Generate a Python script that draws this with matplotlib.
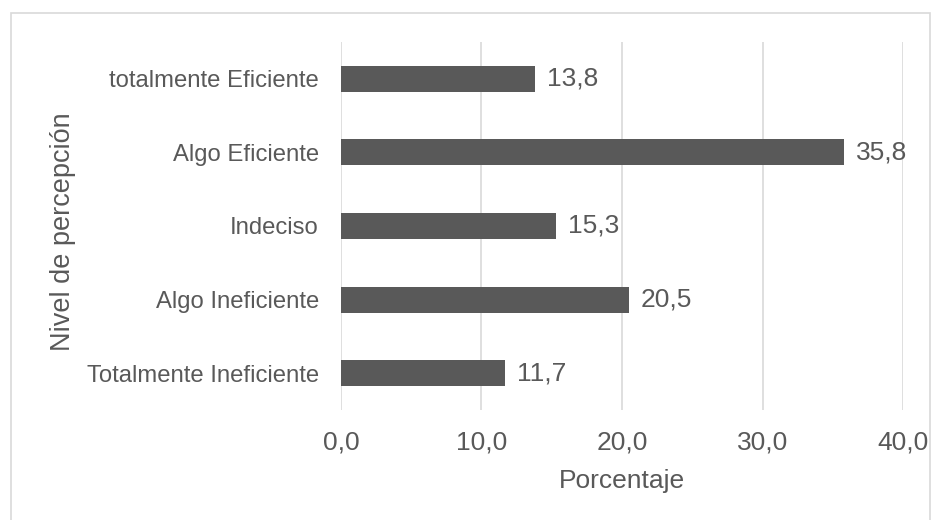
import matplotlib.pyplot as plt
from matplotlib.patches import Rectangle

# Data (bottom to top)
categories = ['Totalmente Ineficiente', 'Algo Ineficiente', 'Indeciso',
              'Algo Eficiente', 'totalmente Eficiente']
values = [11.7, 20.5, 15.3, 35.8, 13.8]
x_ticks = [0, 10, 20, 30, 40]

GRAY_TEXT = '#595959'
BAR_COLOR = '#595959'
GRID_COLOR = '#d9d9d9'


def plot_chart():
    '''Horizontal bar chart of perception level'''
    plt.rcParams['font.family'] = ['Liberation Sans', 'DejaVu Sans']
    fig = plt.figure(figsize=(9.37, 5.2), dpi=100)
    ax = fig.add_axes([341 / 937, 110 / 520, 562 / 937, 368 / 520])

    # Outer chart border
    fig.add_artist(Rectangle((11 / 937, -0.1), 919 / 937, (507 / 520) + 0.1,
                             transform=fig.transFigure, fill=False,
                             edgecolor=GRID_COLOR, linewidth=1.2))

    pos = range(len(categories))
    ax.barh(pos, values, height=0.355, color=BAR_COLOR, zorder=3)

    # Data labels
    for p, v in zip(pos, values):
        ax.annotate(f'{v:.1f}'.replace('.', ','), (v, p),
                    xytext=(8.5, 0), textcoords='offset points',
                    va='center', ha='left', fontsize=19, color=GRAY_TEXT)

    ax.set_xlim(0, 40)
    ax.set_ylim(-0.5, len(categories) - 0.5)
    ax.set_xticks(x_ticks)
    ax.set_xticklabels([f'{t:.1f}'.replace('.', ',') for t in x_ticks])
    ax.set_yticks(list(pos))
    ax.set_yticklabels(categories)
    ax.tick_params(axis='both', length=0, labelcolor=GRAY_TEXT)
    ax.tick_params(axis='y', pad=16, labelsize=17.2)
    ax.tick_params(axis='x', pad=15, labelsize=19)

    ax.grid(axis='x', color=GRID_COLOR, linewidth=1.2, zorder=0)
    for s in ax.spines.values():
        s.set_visible(False)

    ax.set_xlabel('Porcentaje', fontsize=19, color=GRAY_TEXT, labelpad=10)
    ax.set_ylabel('Nivel de percepción', fontsize=19.5, color=GRAY_TEXT)
    ax.yaxis.set_label_coords(-265 / 562, 0.484)

    fig.savefig('out.png', dpi=100)


if __name__ == "__main__":
    plot_chart()
